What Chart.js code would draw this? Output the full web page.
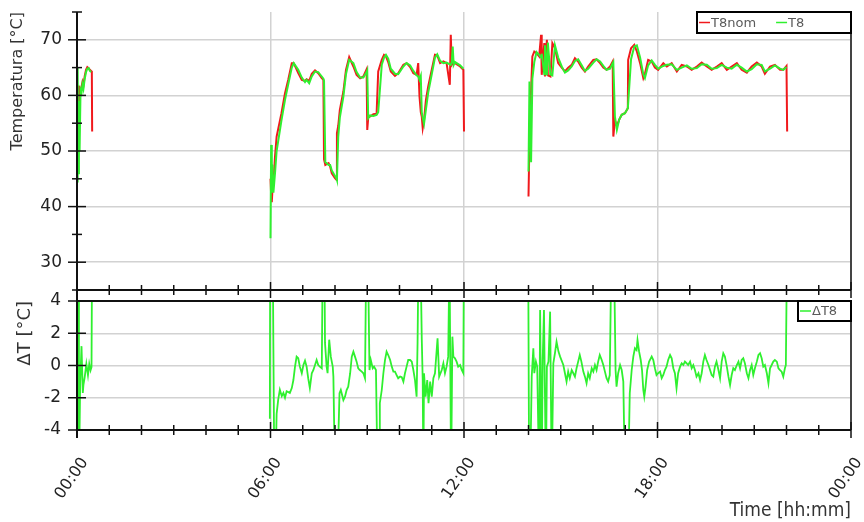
<!DOCTYPE html>
<html>
<head>
<meta charset="utf-8">
<title>T8 temperatura</title>
<script src="https://cdn.jsdelivr.net/npm/chart.js@4.4.1/dist/chart.umd.min.js"></script>
<style>
  html, body { margin: 0; padding: 0; background: #fff; }
  #wrap { position: relative; width: 864px; height: 522px; overflow: hidden; }
  #wrap canvas { position: absolute; left: 0; }
  #tempChart { top: 0; }
  #deltaChart { top: 292px; }
</style>
</head>
<body>
<div id="wrap">
  <canvas id="tempChart" width="864" height="300"></canvas>
  <canvas id="deltaChart" width="864" height="230"></canvas>
</div>
<script>
// time in hours after midnight; the null rows split the three runs
const tempTimes = [
  0.00, 0.02, 0.04, 0.06, 0.08, 0.11, 0.14, 0.17, 0.20, 0.24, 0.28, 0.32, 0.36, 0.40, 0.44, 0.46, 0.47,
  3.00,
  6.00, 6.02, 6.04, 6.06, 6.09, 6.14, 6.19, 6.34, 6.45, 6.55, 6.66, 6.72, 6.86, 6.97, 7.07, 7.12, 7.20, 7.28,
  7.38, 7.48, 7.59, 7.64, 7.66, 7.70, 7.80, 7.85, 7.90, 8.00, 8.05, 8.06, 8.10, 8.15, 8.26, 8.34, 8.44, 8.57,
  8.67, 8.78, 8.88, 8.98, 9.00, 9.03, 9.09, 9.19, 9.29, 9.34, 9.45, 9.52, 9.58, 9.65, 9.73, 9.86, 9.96, 10.12,
  10.22, 10.33, 10.43, 10.53, 10.58, 10.62, 10.66, 10.69, 10.72, 10.76, 10.82, 10.89, 11.00, 11.10, 11.17, 11.26,
  11.36, 11.46, 11.56, 11.59, 11.62, 11.65, 11.68, 11.72, 11.88, 11.98, 12.00,
  13.00,
  14.00, 14.03, 14.08, 14.12, 14.18, 14.25, 14.33, 14.39, 14.41, 14.49, 14.51, 14.57, 14.60, 14.68, 14.74, 14.82,
  14.92, 15.03, 15.13, 15.23, 15.34, 15.44, 15.54, 15.65, 15.75, 15.85, 16.01, 16.11, 16.22, 16.32, 16.42, 16.53,
  16.61, 16.63, 16.68, 16.74, 16.81, 16.89, 16.99, 17.08, 17.09, 17.18, 17.28, 17.36, 17.46, 17.56, 17.61, 17.71,
  17.82, 17.92, 18.02, 18.18, 18.29, 18.44, 18.60, 18.75, 18.91, 19.06, 19.22, 19.37, 19.53, 19.68, 19.84, 19.99,
  20.15, 20.30, 20.46, 20.61, 20.77, 20.92, 21.08, 21.23, 21.33, 21.49, 21.64, 21.80, 21.90, 22.00, 22.02
];

const t8nomValues = [
  55.0, 61.8, 57.5, 61.7, 61.0, 60.6, 61.5, 62.4, 61.8, 63.5, 64.6, 65.1, 64.9, 64.6, 64.4, 64.3, 53.5,
  null,
  45.0, 42.0, 40.8, 43.0, 44.2, 49.0, 52.6, 56.8, 60.4, 62.8, 65.8, 65.8, 64.0, 62.8, 62.6, 62.9, 62.6, 63.9,
  64.5, 64.0, 63.1, 62.8, 48.5, 47.5, 47.8, 47.2, 46.0, 45.1, 44.8, 53.2, 54.5, 57.4, 60.7, 64.6, 66.9, 65.2,
  63.7, 63.1, 63.4, 64.7, 53.8, 56.0, 56.2, 56.6, 56.7, 64.3, 66.4, 67.3, 67.0, 66.0, 64.3, 63.5, 64.0, 65.5,
  65.8, 65.1, 64.0, 63.7, 65.8, 59.8, 57.0, 56.2, 54.1, 55.5, 59.2, 61.6, 64.6, 67.3, 67.2, 65.8,
  66.1, 65.8, 61.9, 70.9, 65.5, 65.8, 66.0, 65.8, 65.2, 64.6, 53.5,
  null,
  41.8, 52.0, 61.0, 67.0, 67.9, 67.6, 67.0, 70.9, 63.7, 69.4, 63.4, 70.0, 63.6, 63.4, 69.4, 68.5,
  65.8, 65.0, 64.3, 65.0, 65.5, 66.7, 66.1, 65.0, 64.3, 65.2, 66.4, 66.5, 65.8, 65.0, 64.6, 65.2,
  66.1, 52.6, 55.5, 54.5, 55.6, 56.5, 56.8, 57.7, 66.4, 68.5, 69.1, 67.9, 65.8, 63.1, 63.9, 66.4,
  66.1, 65.0, 64.6, 65.8, 65.2, 65.8, 64.3, 65.5, 65.2, 64.6, 65.2, 65.9, 65.2, 64.6, 65.2, 65.8,
  64.6, 65.2, 65.8, 64.6, 64.1, 65.2, 65.9, 65.2, 63.9, 65.2, 65.5, 64.6, 64.6, 65.3, 53.5
];

const t8Values = [
  44.5, 65.0, 46.0, 59.0, 50.0, 61.0, 60.5, 62.0, 61.2, 63.0, 64.2, 64.8, 64.9, 64.4, 64.2, 64.2, null,
  null,
  34.3, 51.1, 42.5, 47.5, 42.5, 46.0, 50.0, 55.5, 59.2, 62.0, 65.0, 65.8, 64.6, 63.2, 62.4, 62.8, 62.2, 63.4,
  64.3, 64.2, 63.4, 63.0, 62.6, 48.0, 47.5, 47.5, 46.5, 45.5, 45.0, 44.8, 52.5, 56.0, 59.8, 63.8, 66.4, 65.8,
  64.2, 63.2, 63.2, 64.2, 64.5, 55.9, 56.4, 56.3, 56.5, 57.0, 65.5, 66.8, 67.3, 66.6, 64.8, 63.9, 63.8, 65.2,
  65.8, 65.4, 64.4, 63.6, 63.4, 62.8, 63.5, 57.0, 56.0, 54.9, 57.5, 60.5, 63.8, 66.8, 67.4, 66.2,
  65.8, 65.9, 65.6, 65.5, 66.0, 68.8, 65.5, 66.0, 65.4, 64.8, null,
  null,
  46.3, 62.5, 48.0, 63.0, 66.0, 67.8, 67.3, 66.8, 67.5, 63.8, 69.0, 63.6, 69.5, 63.8, 63.6, 69.0,
  66.8, 65.2, 64.1, 64.5, 65.2, 66.2, 66.5, 65.4, 64.4, 64.8, 65.9, 66.5, 66.1, 65.3, 64.6, 64.8,
  65.8, 66.0, 56.2, 53.8, 55.6, 56.5, 56.8, 57.7, 58.5, 66.5, 68.8, 69.0, 66.8, 63.8, 63.1, 65.4,
  66.3, 65.5, 64.8, 65.3, 65.5, 65.6, 64.6, 65.0, 65.4, 64.8, 64.9, 65.6, 65.5, 64.8, 64.9, 65.5,
  65.0, 64.8, 65.5, 65.0, 64.3, 64.7, 65.6, 65.5, 64.3, 64.8, 65.4, 64.8, 64.6, 65.1, null
];

const deltaTimes = [
  0.00, 0.01, 0.02, 0.04, 0.06, 0.10, 0.14, 0.18, 0.20, 0.24, 0.29, 0.34, 0.38, 0.42, 0.45, 0.47,
  3.00,
  5.98, 5.99, 6.07, 6.09, 6.12, 6.15, 6.19, 6.24, 6.29, 6.35, 6.40, 6.45, 6.50, 6.60, 6.66, 6.71, 6.76, 6.81,
  6.86, 6.91, 6.97, 7.02, 7.07, 7.12, 7.17, 7.22, 7.28, 7.33, 7.38, 7.43, 7.48, 7.53, 7.59, 7.62, 7.67, 7.69,
  7.74, 7.77, 7.82, 7.87, 7.93, 7.95, 8.00, 8.07, 8.14, 8.18, 8.26, 8.31, 8.36, 8.41, 8.47, 8.52, 8.57, 8.62,
  8.67, 8.72, 8.77, 8.83, 8.88, 8.93, 8.97, 9.02, 9.07, 9.11, 9.17, 9.21, 9.27, 9.32, 9.37, 9.39, 9.45, 9.50,
  9.55, 9.60, 9.65, 9.71, 9.76, 9.81, 9.86, 9.91, 9.96, 10.02, 10.07, 10.12, 10.17, 10.22, 10.27, 10.33, 10.38,
  10.43, 10.48, 10.53, 10.56, 10.59, 10.65, 10.69, 10.72, 10.74, 10.76, 10.81, 10.86, 10.90, 10.95, 11.00,
  11.05, 11.10, 11.18, 11.23, 11.31, 11.36, 11.41, 11.46, 11.51, 11.55, 11.60, 11.64, 11.67, 11.72, 11.77,
  11.82, 11.88, 11.93, 11.98, 12.00,
  13.00,
  13.99, 14.02, 14.05, 14.10, 14.15, 14.18, 14.23, 14.27, 14.33, 14.36, 14.41, 14.44, 14.48, 14.54, 14.57,
  14.62, 14.67, 14.72, 14.77, 14.82, 14.87, 14.93, 14.98, 15.08, 15.13, 15.18, 15.23, 15.28, 15.34, 15.39,
  15.44, 15.49, 15.54, 15.59, 15.64, 15.70, 15.75, 15.80, 15.85, 15.90, 15.96, 16.01, 16.06, 16.11, 16.16,
  16.21, 16.27, 16.32, 16.37, 16.42, 16.47, 16.52, 16.57, 16.65, 16.70, 16.73, 16.78, 16.84, 16.89, 16.94,
  16.99, 17.09, 17.14, 17.20, 17.25, 17.30, 17.35, 17.38, 17.43, 17.48, 17.52, 17.56, 17.59, 17.63, 17.68,
  17.74, 17.82, 17.87, 17.92, 17.97, 18.02, 18.08, 18.13, 18.18, 18.23, 18.28, 18.33, 18.39, 18.44, 18.49,
  18.54, 18.59, 18.64, 18.70, 18.75, 18.80, 18.85, 18.90, 18.95, 19.01, 19.06, 19.11, 19.16, 19.21, 19.27,
  19.32, 19.37, 19.42, 19.47, 19.52, 19.58, 19.63, 19.68, 19.73, 19.78, 19.83, 19.89, 19.94, 19.99, 20.04,
  20.09, 20.15, 20.20, 20.25, 20.30, 20.35, 20.40, 20.46, 20.51, 20.56, 20.61, 20.66, 20.71, 20.77, 20.82,
  20.87, 20.92, 20.97, 21.02, 21.08, 21.13, 21.18, 21.23, 21.28, 21.33, 21.39, 21.44, 21.49, 21.54, 21.59,
  21.64, 21.70, 21.75, 21.80, 21.85, 21.90, 21.95, 21.98, 22.02
];

const deltaT8Values = [
  -3.5, 7, -7, 7, -7, -1.0, 1.2, -1.7, -1.2, -0.7, 0.1, -0.6, 0.1, -0.3, -0.1, 8,
  null,
  -3.3, 7, 7, 1.0, -7, -7, -3.0, -2.1, -1.5, -1.9, -1.7, -2.0, -1.6, -1.7, -1.4, -0.9, -0.07, 0.55,
  0.45, -0.07, -0.48, 0.03, 0.3, -0.07, -0.8, -1.4, -0.48, -0.28, 0.03, 0.34, 0.03, -0.07, -0.17, 7, 7, 1.4,
  -0.07, -0.48, 1.6, 0.55, -0.07, -0.69, -7, -7, -1.72, -1.52, -2.14, -1.93, -1.52, -1.31, -0.48, 0.55, 0.86, 0.55,
  0.24, -0.17, -0.28, -0.38, -0.48, -0.79, 7, 7, -0.28, 0.34, -0.17, -0.07, -0.28, -7, -7, -2.34, -1.52, -0.48,
  0.34, 0.86, 0.65, 0.34, -0.07, -0.38, -0.38, -0.59, -0.79, -0.69, -0.73, -1.0, -0.48, -0.07, 0.34, 0.34, 0.24,
  -0.28, -0.9, -1.93, 1.38, 7, 7, 1.69, -0.9, -7, -0.48, -1.93, -0.9, -2.34, -1.0, -1.93,
  -0.79, -0.48, 1.69, -0.69, -0.28, 0.14, -0.48, -0.07, 0.55, 7, -7, 1.79, 0.55, 0.45, 0.24,
  -0.07, 0.03, -0.28, -0.48, 8,
  null,
  7, -7, -7, -0.69, 1.07, -0.48, 0.24, -0.07, -7, 3.44, -7, 0.34, 3.44, -7, -0.07,
  0.24, 3.34, -7, 0.14, 0.76, 1.48, 0.86, 0.55, 0.03, -0.48, -1.0, -0.38, -0.79, -0.28, -0.48,
  -0.69, -0.17, 0.24, 0.65, 0.24, -0.38, -0.69, -1.1, -0.48, -0.79, -0.17, -0.38, 0.03, -0.28, 0.24,
  0.65, 0.34, 0.03, -0.38, -0.79, -1.0, -0.59, 7, 7, -0.28, -1.31, -0.48, 0.03, -0.28, -1.0,
  -7, -7, -1.72, -0.28, 0.55, 1.07, 0.96, 1.58, 0.86, 0.34, -0.28, -1.52, -1.93, -1.31, -0.28,
  0.24, 0.55, 0.34, -0.17, -0.59, -0.48, -0.38, -0.79, -0.59, -0.28, -0.07, 0.34, 0.65, 0.45, -0.17,
  -0.48, -1.41, -0.48, -0.07, 0.14, 0.03, 0.24, 0.14, 0.03, 0.24, -0.17, 0.03, -0.28, -0.69, -0.48,
  -0.9, -0.48, 0.24, 0.65, 0.34, 0.03, -0.28, -0.59, -0.69, -0.07, 0.24, -0.28, -0.79, 0.24, 0.76,
  0.55, -0.07, -0.69, -1.21, -0.59, -0.17, -0.28, 0.03, 0.24, -0.17, 0.34, 0.45, 0.14, -0.48, -0.79,
  -0.28, 0.03, -0.59, -0.17, 0.24, 0.65, 0.76, 0.45, -0.07, 0.03, -0.48, -1.1, -0.17, 0.03, 0.24,
  0.34, 0.24, -0.17, -0.28, -0.38, -0.69, -0.17, 0.03, 8
];

const timeLabels = ['00:00', '06:00', '12:00', '18:00', '00:00'];

const RED = '#f0191c';
const GREEN = '#2ff02f';
const GRID = '#d2d2d2';
const FONT = '"DejaVu Sans", Verdana, sans-serif';

function toPoints(times, values) {
    return times.map((t, i) => ({ x: t, y: values[i] }));
}

function strokeLine(ctx, x1, y1, x2, y2) {
    ctx.beginPath();
    ctx.moveTo(x1, y1);
    ctx.lineTo(x2, y2);
    ctx.stroke();
}

// axis lines with cross ticks, plus the dark frame on the right
const axisFrame = {
    id: 'axisFrame',
    afterDatasetsDraw(chart, args, opts) {
        const { ctx, chartArea: area, scales } = chart;
        ctx.save();
        ctx.lineCap = 'butt';

        ctx.strokeStyle = '#444';
        ctx.lineWidth = 2;
        strokeLine(ctx, area.right, area.top, area.right, area.bottom);

        ctx.strokeStyle = '#111';
        strokeLine(ctx, area.left, opts.leftTop, area.left, opts.leftBottom);
        strokeLine(ctx, area.left, area.bottom, area.right, area.bottom);
        if (opts.topLine) strokeLine(ctx, area.left, area.top, area.right, area.top);

        ctx.lineWidth = 1.5;
        scales.y.ticks.forEach(t => {
            const py = scales.y.getPixelForValue(t.value);
            const len = t.value % opts.yMajor === 0 ? 9 : 5;
            strokeLine(ctx, area.left - len, py, area.left + len, py);
        });
        scales.x.ticks.forEach(t => {
            const px = scales.x.getPixelForValue(t.value);
            const len = t.value % 6 === 0 ? 8 : 5;
            strokeLine(ctx, px, area.bottom - len, px, area.bottom + len);
        });
        ctx.restore();
    }
};

// boxed legend in the top right corner of the plot
const boxLegend = {
    id: 'boxLegend',
    afterDraw(chart, args, opts) {
        const { ctx, chartArea: area } = chart;
        const left = area.right - opts.width;
        const top = area.top;
        ctx.save();
        ctx.fillStyle = '#fff';
        ctx.fillRect(left, top, opts.width, opts.height);
        ctx.strokeStyle = '#000';
        ctx.lineWidth = 2;
        ctx.strokeRect(left, top, opts.width, opts.height);

        ctx.font = '13px ' + FONT;
        ctx.textBaseline = 'middle';
        const cy = top + opts.height / 2;
        let cx = left + 2;
        chart.data.datasets.forEach(ds => {
            ctx.strokeStyle = ds.borderColor;
            ctx.lineWidth = 1.5;
            strokeLine(ctx, cx, cy, cx + 11, cy);
            ctx.fillStyle = '#5a5a5a';
            ctx.fillText(ds.label, cx + 12, cy + 1);
            cx += 12 + ctx.measureText(ds.label).width + 20;
        });
        ctx.restore();
    }
};

function hourGrid(c) {
    const v = c.tick ? c.tick.value : 0;
    return v % 6 === 0 && v > 0 && v < 24 ? GRID : 'rgba(0,0,0,0)';
}

// keep the plot box where the reference has it: no extra room for edge labels
function fixWidth(s) {
    s.width = 77;
    s.paddingTop = 0;
    s.paddingBottom = 0;
}

function xScale(showLabels) {
    return {
        type: 'linear',
        min: 0,
        max: 24,
        afterFit: s => {
            s.height = showLabels ? 92 : 0;
            s.paddingLeft = 0;
            s.paddingRight = 0;
        },
        border: { display: false },
        grid: { color: hourGrid, lineWidth: 1.5, drawTicks: false },
        ticks: {
            display: showLabels,
            stepSize: 1,
            autoSkip: false,
            minRotation: 55,
            maxRotation: 55,
            padding: 24,
            labelOffset: 8,
            color: '#222',
            font: { family: FONT, size: 16 },
            callback: v => (v % 6 === 0 ? timeLabels[v / 6] : '')
        },
        title: {
            display: showLabels,
            text: 'Time [hh:mm]',
            align: 'end',
            color: '#333',
            padding: { top: 0, bottom: 0 },
            font: { family: '"DejaVu Sans Condensed", "DejaVu Sans", sans-serif', size: 19 }
        }
    };
}

const tempChart = new Chart(document.getElementById('tempChart'), {
    type: 'line',
    data: {
        datasets: [{
            label: 'T8nom',
            data: toPoints(tempTimes, t8nomValues),
            borderColor: RED,
            borderWidth: 2,
            order: 1
        }, {
            label: 'T8',
            data: toPoints(tempTimes, t8Values),
            borderColor: GREEN,
            borderWidth: 2,
            order: 0
        }]
    },
    options: {
        responsive: false,
        animation: false,
        spanGaps: false,
        elements: { point: { radius: 0 }, line: { tension: 0 } },
        layout: { padding: { left: 0, right: 13, top: 12, bottom: 10 } },
        scales: {
            x: xScale(false),
            y: {
                min: 25,
                max: 75,
                afterFit: fixWidth,
                border: { display: false },
                grid: {
                    color: c => (c.tick && c.tick.value % 10 === 0 ? GRID : 'rgba(0,0,0,0)'),
                    lineWidth: 1.5,
                    drawTicks: false
                },
                ticks: {
                    stepSize: 5,
                    padding: 15,
                    color: '#222',
                    font: { family: FONT, size: 17 },
                    callback: v => (v % 10 === 0 ? v : '')
                },
                title: {
                    display: true,
                    text: 'Temperatura [°C]',
                    align: 'end',
                    color: '#333',
                    padding: { top: 8, bottom: 0 },
                    font: { family: FONT, size: 16 }
                }
            }
        },
        plugins: {
            legend: { display: false },
            tooltip: { enabled: false },
            axisFrame: { leftTop: 12, leftBottom: 300, yMajor: 10, topLine: false },
            boxLegend: { width: 154, height: 21 }
        }
    },
    plugins: [axisFrame, boxLegend]
});

const deltaChart = new Chart(document.getElementById('deltaChart'), {
    type: 'line',
    data: {
        datasets: [{
            label: 'ΔT8',
            data: toPoints(deltaTimes, deltaT8Values),
            borderColor: GREEN,
            borderWidth: 1.8
        }]
    },
    options: {
        responsive: false,
        animation: false,
        spanGaps: false,
        elements: { point: { radius: 0 }, line: { tension: 0 } },
        layout: { padding: { left: 0, right: 13, top: 9, bottom: 0 } },
        scales: {
            x: xScale(true),
            y: {
                min: -4,
                max: 4,
                afterFit: fixWidth,
                border: { display: false },
                grid: {
                    color: c => (c.tick && c.tick.value % 2 === 0 && Math.abs(c.tick.value) < 4 ? GRID : 'rgba(0,0,0,0)'),
                    lineWidth: 1.5,
                    drawTicks: false
                },
                ticks: {
                    stepSize: 1,
                    padding: 16,
                    color: '#222',
                    font: { family: FONT, size: 17 },
                    callback: v => (v % 2 === 0 ? v : '')
                },
                title: {
                    display: true,
                    text: 'ΔT [°C]',
                    align: 'end',
                    color: '#333',
                    padding: { top: 15, bottom: 0 },
                    font: { family: FONT, size: 18 }
                }
            }
        },
        plugins: {
            legend: { display: false },
            tooltip: { enabled: false },
            axisFrame: { leftTop: 0, leftBottom: 146, yMajor: 2, topLine: true },
            boxLegend: { width: 53, height: 20 }
        }
    },
    plugins: [axisFrame, boxLegend]
});
</script>
</body>
</html>
